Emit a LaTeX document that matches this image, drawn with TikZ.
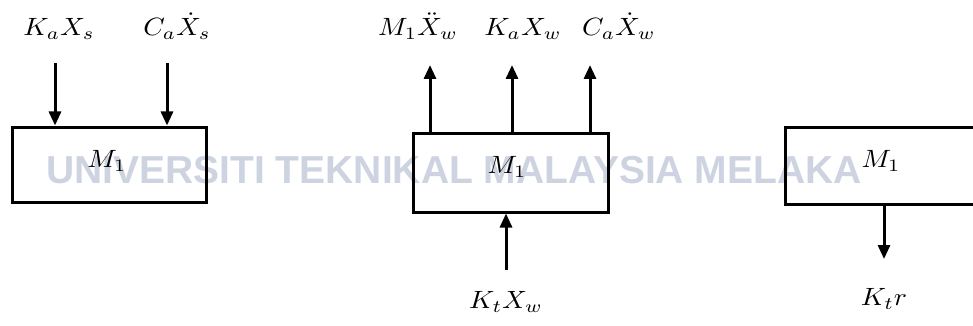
\documentclass[tikz,border=0pt]{standalone}
\usepackage{fontspec}
\usepackage{graphicx}
\newfontfamily\wmfont{Liberation Sans}
\usetikzlibrary{arrows.meta}
\definecolor{wmcol}{RGB}{205,211,224}
\newcommand{\mylabelmath}[1]{\scalebox{2.75}[2.5]{$#1$}}
\tikzset{
  box/.style={draw=black, line width=3pt, inner sep=0pt},
  frc/.style={draw=black, line width=3pt, -{Triangle[width=12pt,length=14pt]}},
  lab/.style={inner sep=0pt},
  wm/.style={inner sep=0pt, text=wmcol, font=\wmfont\bfseries\fontsize{39}{42}\selectfont}
}
\begin{document}
\begin{tikzpicture}[x=1pt,y=-1pt]
\useasboundingbox (0,0) rectangle (973,326);
\clip (0,0) rectangle (973,326);
% watermark
\node[wm] (wmtext) at (454,170) {UNIVERSITI TEKNIKAL MALAYSIA MELAKA};
% box 1
\node[box, minimum width=194pt, minimum height=75pt] (b1) at (109,164.5) {};
\node[lab] (m1a) at (107,161) {\mylabelmath{M_1}};
\node[lab] (l1) at (59,29) {\mylabelmath{K_aX_s}};
\node[lab] (l2) at (177,26) {\mylabelmath{C_a\dot X_s}};
\coordinate (s1) at (55,63);
\coordinate (s2) at (167,63);
\draw[frc] (s1) -- (s1 |- b1.north);
\draw[frc] (s2) -- (s2 |- b1.north);
% box 2
\node[box, minimum width=195pt, minimum height=79pt] (b2) at (510.5,172.5) {};
\node[lab] (m1b) at (507,167) {\mylabelmath{M_1}};
\node[lab] (l3) at (418,26) {\mylabelmath{M_1\ddot X_w}};
\node[lab] (l4) at (523,29) {\mylabelmath{K_aX_w}};
\node[lab] (l5) at (619,26) {\mylabelmath{C_a\dot X_w}};
\coordinate (t1) at (430,65);
\coordinate (t2) at (512,65);
\coordinate (t3) at (590,65);
\draw[frc] (t1 |- b2.north) -- (t1);
\draw[frc] (t2 |- b2.north) -- (t2);
\draw[frc] (t3 |- b2.north) -- (t3);
\coordinate (u1) at (506,270);
\draw[frc] (u1) -- (u1 |- b2.south);
\node[lab] (l6) at (506,302) {\mylabelmath{K_tX_w}};
% box 3
\node[box, minimum width=215pt, minimum height=77pt] (b3) at (892.5,165.5) {};
\node[lab] (m1c) at (881,161) {\mylabelmath{M_1}};
\coordinate (d1) at (884,259);
\draw[frc] (d1 |- b3.south) -- (d1);
\node[lab] (l7) at (884,299) {\mylabelmath{K_tr}};
\end{tikzpicture}
\end{document}
